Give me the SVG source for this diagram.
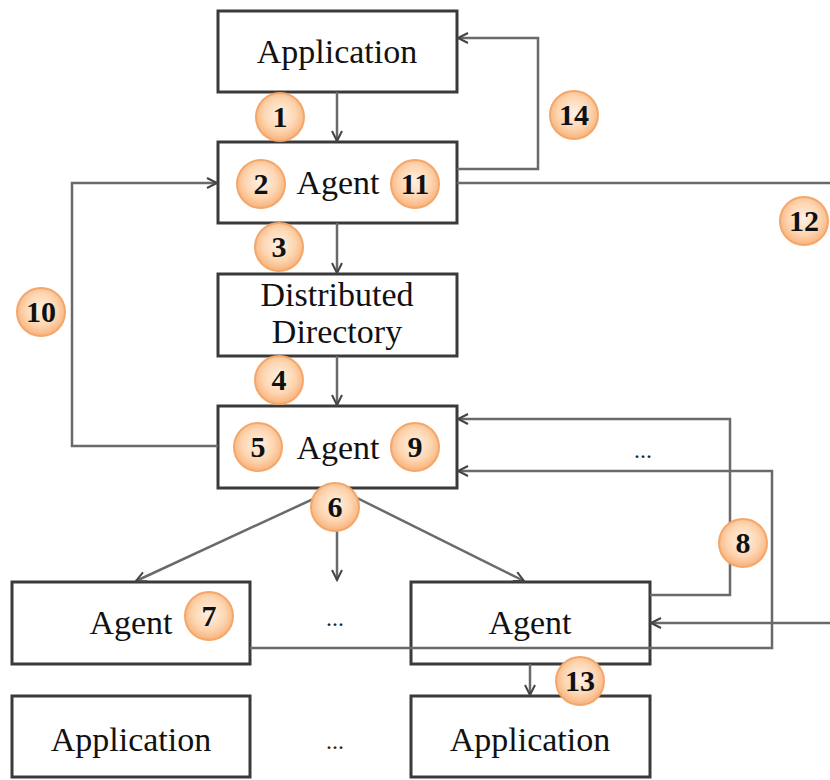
<svg xmlns="http://www.w3.org/2000/svg" width="830" height="780" viewBox="0 0 830 780">
<style>
.box{fill:#fff;stroke:#3a3a3a;stroke-width:3}
.lbl{font-family:"Liberation Serif","Times New Roman",serif;font-size:34px;fill:#111;text-anchor:middle}
.dots{font-family:"Liberation Serif","Times New Roman",serif;font-size:24px;fill:#222;text-anchor:middle}
.con{fill:none;stroke:#6a6a6a;stroke-width:2.5}
.badge circle{fill:url(#bg);stroke:#f4a76a;stroke-width:2}
.badge text{font-family:"Liberation Serif","Times New Roman",serif;font-size:30px;font-weight:bold;fill:#111;text-anchor:middle}
</style>
<defs>
<radialGradient id="bg" cx="0.5" cy="0.45" r="0.55">
<stop offset="0" stop-color="#fff1e4"/>
<stop offset="0.6" stop-color="#fdd6b2"/>
<stop offset="1" stop-color="#f9b27a"/>
</radialGradient>
<marker id="arr" markerUnits="userSpaceOnUse" markerWidth="14" markerHeight="14" refX="11" refY="6" orient="auto">
<path d="M1,1 L11,6 L1,11" fill="none" stroke="#444" stroke-width="2"/>
</marker>
</defs>

<g id="nodes">
<g id="app_top"><rect class="box" x="218" y="11" width="239" height="81"/><text class="lbl" x="337" y="63">Application</text></g>
<g id="agent_top"><rect class="box" x="218" y="142" width="239" height="81"/><text class="lbl" x="338" y="194">Agent</text></g>
<g id="directory"><rect class="box" x="218" y="274" width="239" height="82"/><text class="lbl" x="337" y="306">Distributed</text><text class="lbl" x="337" y="343">Directory</text></g>
<g id="agent_mid"><rect class="box" x="218" y="406" width="239" height="82"/><text class="lbl" x="338" y="459">Agent</text></g>
<g id="agent_bl"><rect class="box" x="12" y="582" width="238" height="82"/><text class="lbl" x="131" y="634">Agent</text></g>
<g id="agent_br"><rect class="box" x="411" y="582" width="239" height="82"/><text class="lbl" x="530" y="634">Agent</text></g>
<g id="app_bl"><rect class="box" x="12" y="696" width="238" height="81"/><text class="lbl" x="131" y="751">Application</text></g>
<g id="app_br"><rect class="box" x="411" y="696" width="239" height="81"/><text class="lbl" x="530" y="751">Application</text></g>
</g>

<g id="connectors">
<path class="con" d="M337,92 V141" marker-end="url(#arr)"/>
<path class="con" d="M337,223 V273" marker-end="url(#arr)"/>
<path class="con" d="M337,356 V405" marker-end="url(#arr)"/>
<path class="con" d="M457,169 H538 V38 H458" marker-end="url(#arr)"/>
<path class="con" d="M457,183 H830"/>
<path class="con" d="M218,446 H72 V183 H217" marker-end="url(#arr)"/>
<path class="con" d="M337,488 L136,581" marker-end="url(#arr)"/>
<path class="con" d="M337,488 V580" marker-end="url(#arr)"/>
<path class="con" d="M337,488 L524,581" marker-end="url(#arr)"/>
<path class="con" d="M650,595 H730 V419 H458" marker-end="url(#arr)"/>
<path class="con" d="M250,648 H772 V471 H458" marker-end="url(#arr)"/>
<path class="con" d="M830,623 H651" marker-end="url(#arr)"/>
<path class="con" d="M530,664 V695" marker-end="url(#arr)"/>
</g>

<g id="ellipses">
<text class="dots" x="643" y="458">...</text>
<text class="dots" x="335" y="626">...</text>
<text class="dots" x="335" y="749">...</text>
</g>

<g id="badges">
<g class="badge"><circle cx="280" cy="117" r="24"/><text x="280" y="127">1</text></g>
<g class="badge"><circle cx="261" cy="184" r="24"/><text x="261" y="194">2</text></g>
<g class="badge"><circle cx="279" cy="247" r="24"/><text x="279" y="257">3</text></g>
<g class="badge"><circle cx="279" cy="380" r="24"/><text x="279" y="390">4</text></g>
<g class="badge"><circle cx="258" cy="447" r="24"/><text x="258" y="457">5</text></g>
<g class="badge"><circle cx="335" cy="507" r="24"/><text x="335" y="517">6</text></g>
<g class="badge"><circle cx="209" cy="616" r="24"/><text x="209" y="626">7</text></g>
<g class="badge"><circle cx="743" cy="543" r="24"/><text x="743" y="553">8</text></g>
<g class="badge"><circle cx="415" cy="447" r="24"/><text x="415" y="457">9</text></g>
<g class="badge"><circle cx="41" cy="312" r="24"/><text x="41" y="322">10</text></g>
<g class="badge"><circle cx="415" cy="184" r="24"/><text x="415" y="194">11</text></g>
<g class="badge"><circle cx="804" cy="221" r="24"/><text x="804" y="231">12</text></g>
<g class="badge"><circle cx="580" cy="681" r="24"/><text x="580" y="691">13</text></g>
<g class="badge"><circle cx="574" cy="115" r="24"/><text x="574" y="125">14</text></g>
</g>
</svg>
